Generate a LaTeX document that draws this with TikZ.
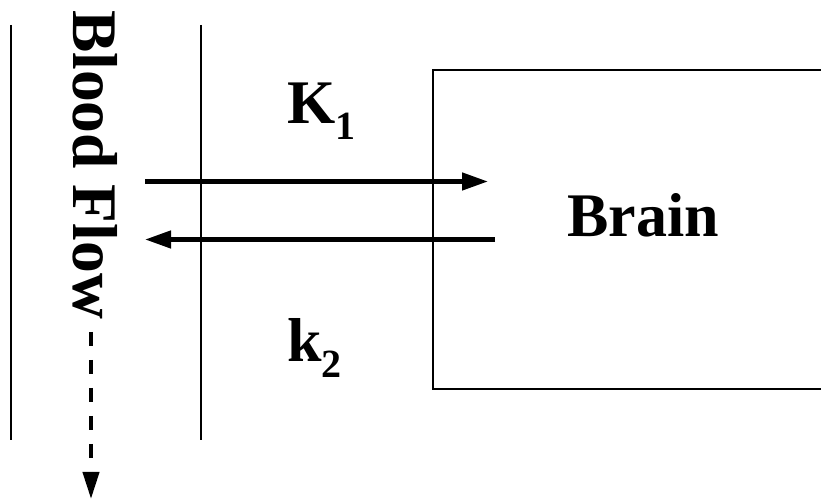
\documentclass[tikz,border=0pt]{standalone}
\usepackage{fontspec}
\setmainfont{Liberation Serif}
\usetikzlibrary{arrows.meta}
\tikzset{
  thinline/.style={line width=2pt},
  flowarrow/.style={line width=4.5pt,-{Triangle[length=26pt,width=17pt]}},
  dasharrow/.style={line width=4pt,dash pattern=on 14pt off 14pt,dash phase=14pt,-{Triangle[length=27pt,width=16pt]}},
  bigtext/.style={inner sep=0pt,font=\fontsize{62}{62}\selectfont\bfseries},
}
\newcommand{\mysub}[1]{\raisebox{-16pt}{\fontsize{40}{40}\selectfont #1}}
\begin{document}
\begin{tikzpicture}[x=1pt,y=1pt]
\useasboundingbox (0,0) rectangle (821,500);
% vertical vessel walls
\coordinate (w1t) at (11,475);
\coordinate (w1b) at (11,60);
\coordinate (w2t) at (201,475);
\coordinate (w2b) at (201,60);
\draw[thinline] (w1t) -- (w1b);
\draw[thinline] (w2t) -- (w2b);
% brain compartment (open to the right)
\coordinate (bx1) at (821,430);
\coordinate (bx2) at (433,430);
\coordinate (bx3) at (433,111);
\coordinate (bx4) at (821,111);
\draw[thinline] (bx1) -- (bx2) -- (bx3) -- (bx4);
% labels
\node[bigtext,rotate=-90,font=\fontsize{63.5}{63.5}\selectfont\bfseries] (bf) at (95.5,335.5) {Blood Flow};
\node[bigtext,anchor=base west] (k1) at (287,376) {K\mysub{1}};
\node[bigtext,anchor=base west] (k2) at (287,138) {k\mysub{2}};
\node[bigtext,anchor=base west] (brain) at (567,263) {Brain};
% exchange arrows
\coordinate (a1s) at (145,318.5);
\coordinate (a1e) at (488,318.5);
\coordinate (a2s) at (495,260.5);
\coordinate (a2e) at (145,260.5);
\draw[flowarrow] (a1s) -- (a1e);
\draw[flowarrow] (a2s) -- (a2e);
% blood flow dashed arrow
\coordinate (ds) at (91,182);
\coordinate (de) at (91,1);
\draw[dasharrow] (ds) -- (de);
\end{tikzpicture}
\end{document}
